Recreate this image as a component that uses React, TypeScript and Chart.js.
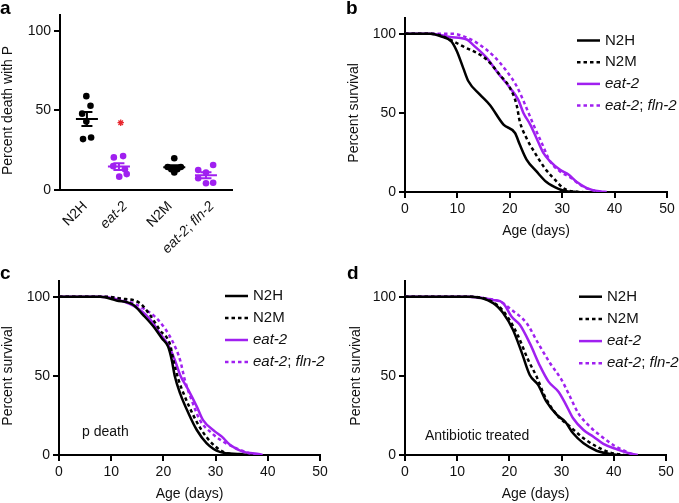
import React, { useEffect, useRef } from 'react';
import { Chart, registerables } from 'chart.js';

Chart.register(...registerables);

const FONT = '"Liberation Sans", Arial, Helvetica, sans-serif';
const INK = '#111111';
const BLACK = '#000000';
const PURPLE = '#a020f0';
const RED = '#e8262d';

// ---------- shared tick values ----------
const yTickValues = [0, 50, 100];
const dayTickValues = [0, 10, 20, 30, 40, 50];
const seriesNames = ['N2H', 'N2M', 'eat-2', 'eat-2; fln-2'];

// ---------- panel a : percent death with P ----------
const groupNames = ['N2H', 'eat-2', 'N2M', 'eat-2; fln-2'];
const groupX = [1, 2.07, 3.92, 4.98];
const groupLabelX = [0.94, 2.28, 3.78, 5.18];
const n2hDeath = [59, 53, 48, 43, 32, 33];
const n2hJitter = [-0.02, 0.12, -0.16, -0.02, -0.13, 0.14];
const eat2Death = [20.5, 21.3, 15, 13, 8.4, 10];
const eat2Jitter = [-0.17, 0.14, -0.19, 0.2, 0.01, 0.26];
const n2mDeath = [20, 14.5, 14.5, 13, 13, 11];
const n2mJitter = [0, -0.22, 0.22, -0.1, 0.1, 0];
const fln2Death = [15.7, 12.6, 11, 7.4, 4.2, 4.6];
const fln2Jitter = [0.24, -0.26, 0, -0.26, 0, 0.24];
const starValue = 42.3; // significance star above eat-2
const starOffset = 0.06;

// ---------- panel b : survival ----------
const bN2H = [[0, 100], [4.8, 100], [6.7, 98.5], [8.9, 95], [9.9, 89], [11.1, 78.5], [12.1, 70], [14.3, 61.6], [16.2, 55], [18.8, 42.6], [21, 37.3], [21.9, 30], [23.2, 20.5], [25.1, 13], [27, 6.3], [29.3, 2], [30.8, 0.5], [33, 0]];
const bN2M = [[0, 100], [5, 100], [6.7, 99], [11.1, 92], [15.6, 83.7], [18.1, 74], [20, 66], [21.3, 55], [21.9, 44.7], [23.2, 34], [24.8, 24.7], [26.7, 15], [28.6, 7.8], [30.2, 2.5], [32, 0.3], [34, 0]];
const bEat2 = [[0, 100], [5, 100], [8.6, 98], [11.8, 96.4], [13, 93], [15.6, 84.8], [17.8, 75], [20, 66], [21.6, 58.4], [22.6, 50], [23.9, 42.6], [25.1, 34], [26.4, 24.7], [27.7, 19.4], [29.6, 14], [31.2, 11], [32.8, 6.3], [34.7, 2.5], [37.2, 0.4], [38.5, 0]];
const bFln2 = [[0, 100], [6, 100], [9.2, 100], [11.1, 98.5], [13.7, 94.3], [16.9, 86], [19.4, 76.4], [21.3, 67], [23.2, 53], [24.5, 42.6], [26.1, 31], [27.7, 19.4], [29.6, 13], [31.5, 9.3], [33.4, 4.6], [35.3, 1.5], [38, 0]];

// ---------- panel c : survival, p death ----------
const cN2H = [[0, 100], [7.9, 100], [11, 97.7], [14.2, 95], [16.1, 88.6], [18.1, 81.2], [19.7, 73.8], [20.9, 68.5], [21.6, 60], [22.2, 49.6], [23.2, 39], [24.8, 26.4], [26.4, 15.8], [28.3, 7.4], [30.8, 2], [34.7, 0.6], [36, 0]];
const cN2M = [[0, 100], [9, 100], [11.7, 99], [15.5, 96], [17.4, 88.6], [19.3, 79], [21.3, 69.6], [21.9, 60], [22.9, 47.5], [24.1, 37], [25.7, 25.3], [27.3, 15.8], [29.3, 7.4], [31.5, 2], [35, 0]];
const cEat2 = [[0, 100], [8, 100], [10.5, 99], [15.5, 91.8], [17.8, 84.4], [19.3, 77], [20.9, 69.6], [22.2, 60], [23.2, 50.6], [24.8, 41], [26.4, 30.6], [27.6, 22], [29.9, 14.8], [31.2, 11.6], [32.8, 6.3], [35.3, 2], [38.5, 0.5], [39, 0]];
const cFln2 = [[0, 100], [8, 100], [12, 98.5], [16.1, 92.8], [19, 85.4], [21.6, 72.8], [23.2, 60], [24.1, 47.5], [25.4, 34.8], [27, 22], [29.3, 13.7], [31.5, 8.4], [34, 4.2], [36.6, 1], [38, 0]];

// ---------- panel d : survival, antibiotic treated ----------
const dN2H = [[0, 100], [12.5, 100], [16.9, 96], [18.8, 89.7], [20.7, 79], [22.4, 64.4], [23.9, 50.6], [25.5, 44.3], [27.1, 33.7], [29.1, 25.3], [30.7, 21], [32.2, 13.7], [34.2, 7.4], [36.7, 2.7], [39.3, 0.6], [41, 0]];
const dN2M = [[0, 100], [13, 100], [17.6, 95], [19.8, 86.5], [21.7, 75], [23.6, 60], [25.2, 49.6], [26.8, 37], [29.1, 25.3], [31.6, 18], [34.2, 10.6], [36.7, 5.3], [39.3, 1.5], [42, 0]];
const dEat2 = [[0, 100], [12, 100], [16.9, 98], [18.8, 96], [20.4, 87.5], [22, 82.3], [23.9, 70.7], [25.9, 56], [27.5, 46.4], [29.4, 40], [30.7, 32.7], [32.2, 23.2], [34.2, 15.8], [36.1, 11.6], [38, 7], [40.6, 3.6], [43.1, 1], [44.6, 0]];
const dFln2 = [[0, 100], [12, 100], [15, 99], [18.2, 97], [20.4, 91.8], [23.3, 83.3], [25.5, 70.7], [27.8, 58], [30, 47.5], [31.6, 37], [33.2, 26.4], [35.4, 18], [37.7, 11.6], [39.9, 6.3], [42.5, 2], [44, 0]];

const seriesStyle = [
  { color: BLACK, dashed: false },
  { color: BLACK, dashed: true },
  { color: PURPLE, dashed: false },
  { color: PURPLE, dashed: true },
];
const DASH = [3.5, 3];

// ---------- helpers ----------
type Part = { t: string; it: boolean };
function labelParts(label: string): Part[] {
  if (label.startsWith('N2')) return [{ t: label, it: false }];
  const out: Part[] = [];
  label.split('; ').forEach((s, i) => {
    if (i > 0) out.push({ t: '; ', it: false });
    out.push({ t: s, it: true });
  });
  return out;
}
function drawParts(ctx: CanvasRenderingContext2D, label: string, x: number, y: number, align: 'left' | 'right', size = 14) {
  const ps = labelParts(label);
  const fonts = ps.map((p) => `${p.it ? 'italic ' : ''}${size}px ${FONT}`);
  const widths = ps.map((p, i) => {
    ctx.font = fonts[i];
    return ctx.measureText(p.t).width;
  });
  const total = widths.reduce((a, b) => a + b, 0);
  let cx = align === 'left' ? x : x - total;
  ctx.textAlign = 'left';
  ps.forEach((p, i) => {
    ctx.font = fonts[i];
    ctx.fillText(p.t, cx, y);
    cx += widths[i];
  });
}

const yAxis = (w: number) => ({
  type: 'linear',
  min: 0,
  max: 110,
  afterBuildTicks: (s: any) => {
    s.ticks = yTickValues.map((v) => ({ value: v }));
  },
  afterFit: (s: any) => {
    s.width = w;
  },
  border: { display: true, color: BLACK, width: 2 },
  grid: { display: true, drawOnChartArea: false, drawTicks: true, tickLength: 6, tickWidth: 2, tickColor: BLACK, color: BLACK, lineWidth: 2 },
  ticks: { color: INK, font: { family: FONT, size: 14 }, padding: 3 },
});

const xDaysAxis = (h: number, titlePadBottom: number) => ({
  type: 'linear',
  min: 0,
  max: 50,
  afterBuildTicks: (s: any) => {
    s.ticks = dayTickValues.map((v) => ({ value: v }));
  },
  afterFit: (s: any) => {
    s.height = h;
  },
  border: { display: true, color: BLACK, width: 2 },
  grid: { display: true, drawOnChartArea: false, drawTicks: true, tickLength: 6, tickWidth: 2, tickColor: BLACK, color: BLACK, lineWidth: 2 },
  ticks: { color: INK, font: { family: FONT, size: 14 }, padding: 3, maxRotation: 0, autoSkip: false },
  title: { display: true, text: 'Age (days)', color: INK, font: { family: FONT, size: 14 }, padding: { top: 0, bottom: titlePadBottom } },
});

const yTitlePlugin = (text: string, cx: number) => ({
  id: 'yTitle',
  afterDraw(chart: any) {
    const { ctx, scales } = chart;
    const y = scales.y;
    const cy = (y.getPixelForValue(0) + y.getPixelForValue(100)) / 2;
    ctx.save();
    ctx.translate(y.left + cx, cy);
    ctx.rotate(-Math.PI / 2);
    ctx.fillStyle = INK;
    ctx.font = `14px ${FONT}`;
    ctx.textAlign = 'center';
    ctx.textBaseline = 'middle';
    ctx.fillText(text, 0, 0);
    ctx.restore();
  },
});

const legendPlugin = (fromRight: number, fromTop: number, rowGap: number) => ({
  id: 'customLegend',
  afterDraw(chart: any) {
    const { ctx, chartArea } = chart;
    const x0 = chartArea.right + fromRight;
    ctx.save();
    seriesNames.forEach((name, i) => {
      const y = chartArea.top + fromTop + i * rowGap;
      const st = seriesStyle[i];
      ctx.strokeStyle = st.color;
      ctx.lineWidth = 2.5;
      ctx.setLineDash(st.dashed ? DASH : []);
      ctx.beginPath();
      ctx.moveTo(x0, y);
      ctx.lineTo(x0 + 23, y);
      ctx.stroke();
      ctx.setLineDash([]);
      ctx.fillStyle = INK;
      ctx.textBaseline = 'middle';
      drawParts(ctx, name, x0 + 28, y, 'left', 15);
    });
    ctx.restore();
  },
});

const notePlugin = (text: string, dx: number, dyFromBottom: number) => ({
  id: 'note',
  afterDraw(chart: any) {
    const { ctx, chartArea } = chart;
    ctx.save();
    ctx.fillStyle = INK;
    ctx.font = `14px ${FONT}`;
    ctx.textAlign = 'left';
    ctx.textBaseline = 'middle';
    ctx.fillText(text, chartArea.left + dx, chartArea.bottom - dyFromBottom);
    ctx.restore();
  },
});

function survivalConfig(series: number[][][], p: any) {
  return {
    type: 'line',
    data: {
      datasets: series.map((s, i) => ({
        label: seriesNames[i],
        data: s.map(([x, y]) => ({ x, y })),
        borderColor: seriesStyle[i].color,
        borderWidth: 2.5,
        borderDash: seriesStyle[i].dashed ? DASH : [],
        pointRadius: 0,
        fill: false,
        cubicInterpolationMode: 'monotone',
      })),
    },
    options: {
      responsive: false,
      animation: false,
      events: [],
      layout: { padding: { top: p.padTop, right: p.padRight, left: 0, bottom: 0 } },
      plugins: { legend: { display: false }, tooltip: { enabled: false } },
      scales: { x: xDaysAxis(p.xHeight, p.titlePad), y: yAxis(p.yWidth) },
    },
    plugins: [yTitlePlugin('Percent survival', p.yTitleX), legendPlugin(p.legRight, p.legTop, p.legGap), ...(p.note ? [notePlugin(p.note, p.noteDx, p.noteDy)] : [])],
  };
}

function deathConfig() {
  const groups = [
    { vals: n2hDeath, jit: n2hJitter, color: BLACK },
    { vals: eat2Death, jit: eat2Jitter, color: PURPLE },
    { vals: n2mDeath, jit: n2mJitter, color: BLACK },
    { vals: fln2Death, jit: fln2Jitter, color: PURPLE },
  ];
  const meanSem = {
    id: 'meanSem',
    afterDatasetsDraw(chart: any) {
      const { ctx, scales } = chart;
      const { x, y } = scales;
      ctx.save();
      groups.forEach((g, i) => {
        const n = g.vals.length;
        const mean = g.vals.reduce((a, b) => a + b, 0) / n;
        const sd = Math.sqrt(g.vals.reduce((a, b) => a + (b - mean) ** 2, 0) / (n - 1));
        const sem = sd / Math.sqrt(n);
        const cx = x.getPixelForValue(groupX[i]);
        const ym = y.getPixelForValue(mean);
        const yt = y.getPixelForValue(mean + sem);
        const yb = y.getPixelForValue(mean - sem);
        ctx.strokeStyle = g.color;
        ctx.lineWidth = 2;
        ctx.beginPath();
        ctx.moveTo(cx - 11, ym);
        ctx.lineTo(cx + 11, ym);
        ctx.moveTo(cx, yt);
        ctx.lineTo(cx, yb);
        ctx.moveTo(cx - 5.5, yt);
        ctx.lineTo(cx + 5.5, yt);
        ctx.moveTo(cx - 5.5, yb);
        ctx.lineTo(cx + 5.5, yb);
        ctx.stroke();
      });
      ctx.restore();
    },
  };
  const xLabels = {
    id: 'xLabels',
    afterDraw(chart: any) {
      const { ctx, scales } = chart;
      const { x } = scales;
      ctx.save();
      ctx.fillStyle = INK;
      groupNames.forEach((name, i) => {
        const ax = x.getPixelForValue(groupLabelX[i]);
        const ay = x.top + 14;
        ctx.save();
        ctx.translate(ax, ay);
        ctx.rotate(-Math.PI / 4);
        ctx.textBaseline = 'middle';
        drawParts(ctx, name, 0, 0, 'right', 14);
        ctx.restore();
      });
      ctx.restore();
    },
  };
  return {
    type: 'scatter',
    data: {
      datasets: [
        ...groups.map((g, i) => ({
          label: groupNames[i],
          data: g.vals.map((v, k) => ({ x: groupX[i] + g.jit[k], y: v })),
          backgroundColor: g.color,
          borderWidth: 0,
          pointRadius: 3.3,
        })),
        {
          label: 'significance',
          data: [{ x: groupX[1] + starOffset, y: starValue }],
          pointStyle: 'star',
          pointRadius: 3.2,
          borderColor: RED,
          backgroundColor: RED,
          borderWidth: 1.3,
        },
      ],
    },
    options: {
      responsive: false,
      animation: false,
      events: [],
      layout: { padding: { top: 15, right: 28, left: 0, bottom: 0 } },
      plugins: { legend: { display: false }, tooltip: { enabled: false } },
      scales: {
        x: {
          type: 'linear',
          min: 0.1,
          max: 5.85,
          afterFit: (s: any) => {
            s.height = 72;
          },
          border: { display: true, color: BLACK, width: 2 },
          grid: { display: false },
          ticks: { display: false },
        },
        y: yAxis(60),
      },
    },
    plugins: [meanSem, xLabels, yTitlePlugin('Percent death with P', 8)],
  };
}

const letterStyle = (left: number, top: number): React.CSSProperties => ({
  position: 'absolute',
  left,
  top,
  font: `bold 19px ${FONT}`,
  lineHeight: '20px',
  color: BLACK,
});

export default function App() {
  const aRef = useRef<HTMLCanvasElement>(null);
  const bRef = useRef<HTMLCanvasElement>(null);
  const cRef = useRef<HTMLCanvasElement>(null);
  const dRef = useRef<HTMLCanvasElement>(null);

  useEffect(() => {
    const charts: Chart[] = [];
    charts.push(new Chart(aRef.current as HTMLCanvasElement, deathConfig() as any));
    charts.push(
      new Chart(
        bRef.current as HTMLCanvasElement,
        survivalConfig([bN2H, bN2M, bEat2, bFln2], {
          padTop: 18, padRight: 12, yWidth: 65, xHeight: 58, titlePad: 10.6, yTitleX: 14,
          legRight: -90, legTop: 22.5, legGap: 21.7,
        }) as any
      )
    );
    charts.push(
      new Chart(
        cRef.current as HTMLCanvasElement,
        survivalConfig([cN2H, cN2M, cEat2, cFln2], {
          padTop: 31, padRight: 20, yWidth: 59, xHeight: 48, titlePad: 0, yTitleX: 8,
          legRight: -95, legTop: 15, legGap: 22,
          note: 'p death', noteDx: 23, noteDy: 23,
        }) as any
      )
    );
    charts.push(
      new Chart(
        dRef.current as HTMLCanvasElement,
        survivalConfig([dN2H, dN2M, dEat2, dFln2], {
          padTop: 31, padRight: 13, yWidth: 65, xHeight: 48, titlePad: 0, yTitleX: 16,
          legRight: -87, legTop: 15.7, legGap: 22.2,
          note: 'Antibiotic treated', noteDx: 20, noteDy: 19,
        }) as any
      )
    );
    return () => charts.forEach((c) => c.destroy());
  }, []);

  return (
    <div style={{ position: 'fixed', left: 0, top: 0, width: 679, height: 503, background: '#fff', overflow: 'hidden' }}>
      <canvas ref={cRef} width={340} height={253} style={{ position: 'absolute', left: 0, top: 250 }} />
      <canvas ref={dRef} width={339} height={253} style={{ position: 'absolute', left: 340, top: 250 }} />
      <canvas ref={aRef} width={260} height={262} style={{ position: 'absolute', left: 0, top: 0 }} />
      <canvas ref={bRef} width={339} height={250} style={{ position: 'absolute', left: 340, top: 0 }} />
      <div style={letterStyle(0, -2)}>a</div>
      <div style={letterStyle(346, -2)}>b</div>
      <div style={letterStyle(0, 263)}>c</div>
      <div style={letterStyle(347, 263)}>d</div>
    </div>
  );
}
